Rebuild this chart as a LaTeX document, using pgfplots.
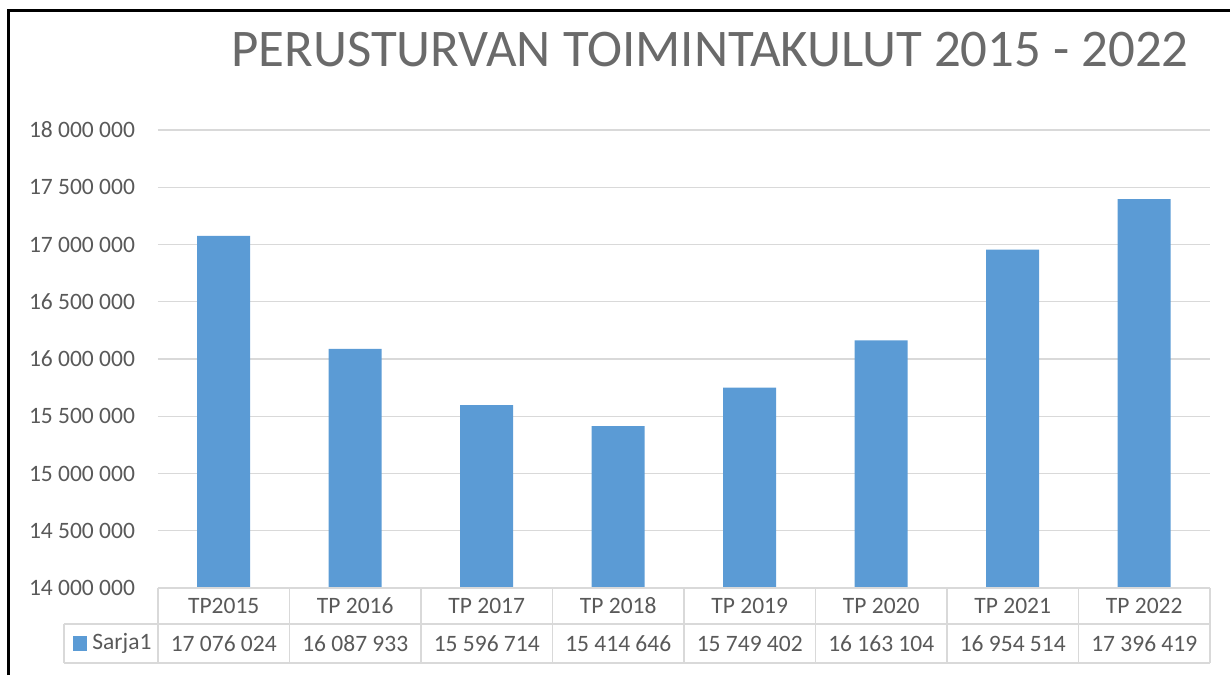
\documentclass[border=0pt]{standalone}
\usepackage{fontspec}
\setmainfont{Carlito}
\usepackage{pgfplots}
\pgfplotsset{compat=1.18}
\definecolor{barblue}{HTML}{5B9BD5}
\definecolor{gridgray}{HTML}{D9D9D9}
\definecolor{txtgray}{HTML}{595959}
\begin{document}
\begin{tikzpicture}
\path[use as bounding box] (-79pt,-43.5pt) rectangle (536pt,294pt);
\begin{axis}[at={(0,0)}, anchor=south west, scale only axis,
  width=526pt, height=229pt,
  xmin=-0.5, xmax=7.5, ymin=14000000, ymax=18000000,
  scaled y ticks=false,
  axis line style={draw=none}, major tick length=0pt,
  ytick={14000000,14500000,15000000,15500000,16000000,16500000,17000000,17500000,18000000},
  yticklabels={14 000 000,14 500 000,15 000 000,15 500 000,16 000 000,16 500 000,17 000 000,17 500 000,18 000 000},
  ymajorgrids, grid style={gridgray, line width=0.6pt},
  xtick={0,1,2,3,4,5,6,7},
  xticklabels={TP2015,TP 2016,TP 2017,TP 2018,TP 2019,TP 2020,TP 2021,TP 2022},
  xticklabel style={anchor=center, yshift=-9pt},
  extra x ticks={0,1,2,3,4,5,6,7},
  extra x tick labels={17 076 024,16 087 933,15 596 714,15 414 646,15 749 402,16 163 104,16 954 514,17 396 419},
  extra x tick style={grid=none, xticklabel style={yshift=-18.75pt}},
  yticklabel style={anchor=east, xshift=-8pt},
  tick label style={font=\fontsize{11.75}{14}\selectfont, text=txtgray},
  ybar, bar width=26.5pt,
]
\addplot[fill=barblue, draw=none] coordinates {(0,17076024) (1,16087933) (2,15596714) (3,15414646) (4,15749402) (5,16163104) (6,16954514) (7,17396419)};
\end{axis}
% data table grid
\begin{scope}[gridgray, line width=0.6pt]
\foreach \k in {0,...,8} \draw (65.75pt*\k,0) -- (65.75pt*\k,-37.5pt);
\draw (0,0) -- (526pt,0);
\draw (-47pt,-18pt) -- (526pt,-18pt);
\draw (-47pt,-37.5pt) -- (526pt,-37.5pt);
\draw (-47pt,-18pt) -- (-47pt,-37.5pt);
\end{scope}
\fill[barblue] (-42.5pt,-24pt) rectangle (-35.5pt,-31.5pt);
\node[anchor=west, inner sep=0pt, text=txtgray, font=\fontsize{11.75}{14}\selectfont] at (-33pt,-27.75pt) {Sarja1};
% title
\node[text=txtgray!90, font=\fontsize{26.45}{32}\selectfont] at (276pt,269pt) {PERUSTURVAN TOIMINTAKULUT 2015 - 2022};
% frame
\draw[black, line width=1.5pt] (-74.75pt,-43.5pt) -- (-74.75pt,288.75pt) -- (536pt,288.75pt);
\end{tikzpicture}
\end{document}
